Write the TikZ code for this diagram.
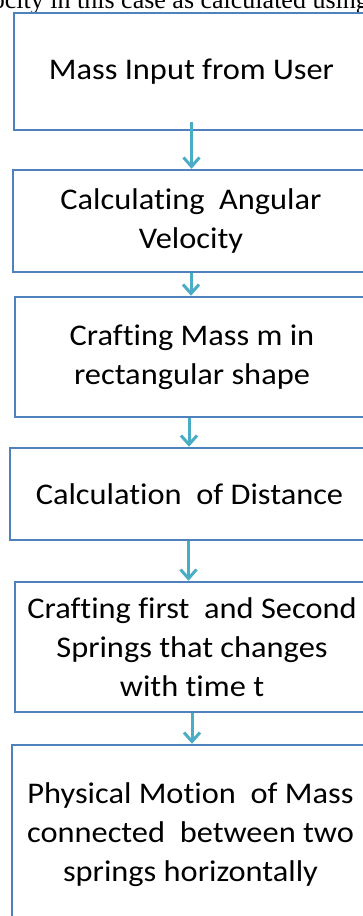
\documentclass[tikz,border=0pt]{standalone}
\usepackage{fontspec}
\setmainfont[Ligatures=NoCommon, FakeStretch=1.08]{Carlito}
\newfontfamily\paperfont{Liberation Serif}
\usetikzlibrary{arrows.meta}
\definecolor{boxblue}{RGB}{79,129,189}
\definecolor{arrowteal}{RGB}{75,172,198}

\begin{document}
\begin{tikzpicture}[x=1pt, y=-1pt,
    stepbox/.style={draw=boxblue, line width=2.5pt, align=center, inner sep=0pt,
      font=\fontsize{30}{39}\selectfont},
    flow/.style={arrowteal, line width=3pt, -{Straight Barb[length=9pt,width=16pt]}}]
  \useasboundingbox (0,0) rectangle (363,916);
  \clip (0,0) rectangle (363,916);

  % Line of the paper above the chart
  \node[anchor=base east, inner sep=0pt, font=\paperfont\fontsize{26}{30}\selectfont] (paper) at (369,8)
    {velocity in this case as calculated using};

  % Steps
  \node[stepbox, minimum width=355pt, minimum height=117pt] (mass) at (191.5,71.5) {Mass Input from User};
  \node[stepbox, minimum width=356pt, minimum height=102pt] (omega) at (191,221) {Calculating\ \ Angular\\Velocity};
  \node[stepbox, minimum width=354pt, minimum height=120pt] (shape) at (192,357) {Crafting Mass m in\\rectangular shape};
  \node[stepbox, minimum width=359pt, minimum height=92pt] (dist) at (189.5,494) {Calculation\ \ of Distance};
  \node[stepbox, minimum width=354pt, minimum height=130pt] (springs) at (192,647) {Crafting first\ \ and Second\\Springs that changes\\with time t};
  \node[stepbox, minimum width=357pt, minimum height=180pt] (motion) at (190.5,835) {Physical Motion\ \ of Mass\\connected\ \ between two\\springs horizontally};

  % Arrows
  \draw[flow] ([yshift=9pt]mass.south) -- (mass.south |- omega.north);
  \draw[flow] (omega.south) -- (omega.south |- shape.north);
  \draw[flow] ([xshift=-3pt]shape.south) -- ([xshift=-3pt]shape.south |- dist.north);
  \draw[flow] ([xshift=-1pt]dist.south) -- ([xshift=-1pt]dist.south |- springs.north);
  \draw[flow] (springs.south) -- (springs.south |- motion.north);
\end{tikzpicture}
\end{document}
